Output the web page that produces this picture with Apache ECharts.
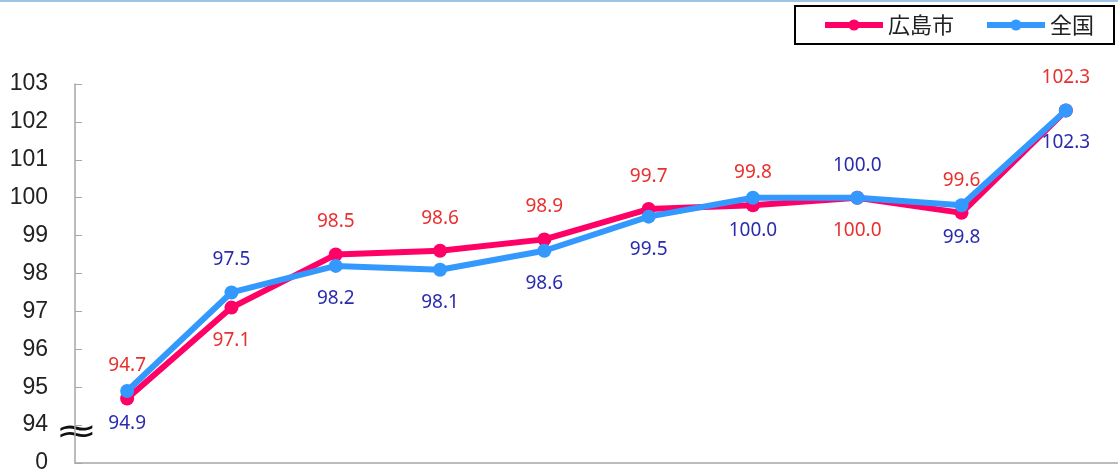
<!DOCTYPE html>
<html><head><meta charset="utf-8">
<script src="https://cdn.jsdelivr.net/npm/echarts@6/dist/echarts.min.js"></script>
<style>html,body{margin:0;padding:0;background:#fff}#c{width:1118px;height:476px}</style>
</head><body><div id="c"></div>
<script>
const categories = ['1','2','3','4','5','6','7','8','9','10'];
const hiroshima = [94.7, 97.1, 98.5, 98.6, 98.9, 99.7, 99.8, 100.0, 99.6, 102.3];
const zenkoku   = [94.9, 97.5, 98.2, 98.1, 98.6, 99.5, 100.0, 100.0, 99.8, 102.3];
const hiroshimaLabelPos = ['top','bottom','top','top','top','top','top','bottom','top','top'];
const zenkokuLabelPos   = ['bottom','top','bottom','bottom','bottom','bottom','bottom','top','bottom','bottom'];
const yTicks = [93, 94, 95, 96, 97, 98, 99, 100, 101, 102, 103];
const yTickText = ['0','94','95','96','97','98','99','100','101','102','103'];

const RED = '#ff0066', BLUE = '#3399ff';
function mk(vals, pos, color) {
  return vals.map((v, i) => ({
    value: v,
    label: { position: pos[i], color: color }
  }));
}
const chart = echarts.init(document.getElementById('c'));
chart.setOption({
  animation: false,
  grid: { left: 75, top: 84, width: 1044, bottom: 13, containLabel: false },
  legend: {
    right: 4, top: 6,
    padding: [8, 20, 8, 27],
    itemGap: 30,
    itemWidth: 58, itemHeight: 14,
    borderColor: '#000', borderWidth: 2, borderRadius: 0,
    lineStyle: { width: 6 },
    textStyle: { fontSize: 22, color: '#222', fontFamily: '"Noto Sans CJK JP", sans-serif' },
    data: ['広島市', '全国']
  },
  xAxis: {
    type: 'category', data: categories,
    axisLine: { lineStyle: { color: '#a6a6a6', width: 1.5 } },
    axisTick: { inside: true, length: 7, lineStyle: { color: '#a6a6a6' } },
    axisLabel: { show: false }
  },
  yAxis: {
    type: 'value', min: 93, max: 103, interval: 1,
    axisLine: { show: true, lineStyle: { color: '#a6a6a6', width: 1.5 } },
    axisTick: { show: true, inside: true, length: 7, lineStyle: { color: '#a6a6a6' } },
    splitLine: { show: false },
    axisLabel: {
      fontSize: 23, color: '#222', margin: 27, align: 'right',
      fontFamily: '"Liberation Sans", Arial, sans-serif',
      formatter: v => { const i = yTicks.indexOf(v); return i >= 0 ? yTickText[i] : ''; }
    }
  },
  series: [
    {
      name: '広島市', type: 'line', data: mk(hiroshima, hiroshimaLabelPos, '#e8302f'),
      color: RED, lineStyle: { width: 6, color: RED }, symbol: 'circle', symbolSize: 14,
      itemStyle: { color: RED },
      label: { show: true, distance: 16, fontSize: 19, formatter: p => p.value.toFixed(1),
        fontFamily: '"Noto Sans", "DejaVu Sans", sans-serif' },
      z: 2
    },
    {
      name: '全国', type: 'line', data: mk(zenkoku, zenkokuLabelPos, '#2b2bb0'),
      color: BLUE, lineStyle: { width: 6, color: BLUE }, symbol: 'circle', symbolSize: 14,
      itemStyle: { color: BLUE },
      label: { show: true, distance: 16, fontSize: 19, formatter: p => p.value.toFixed(1),
        fontFamily: '"Noto Sans", "DejaVu Sans", sans-serif' },
      z: 3
    }
  ],
  graphic: [
    { type: 'rect', left: 0, top: 0, shape: { width: 1118, height: 2 }, style: { fill: '#9dc3e6' } },
    { type: 'text', x: 55, y: 416, scaleX: 1.5, style: { text: '≈', fontSize: 34, fill: '#111', fontFamily: 'DejaVu Sans' } }
  ]
});
</script></body></html>
